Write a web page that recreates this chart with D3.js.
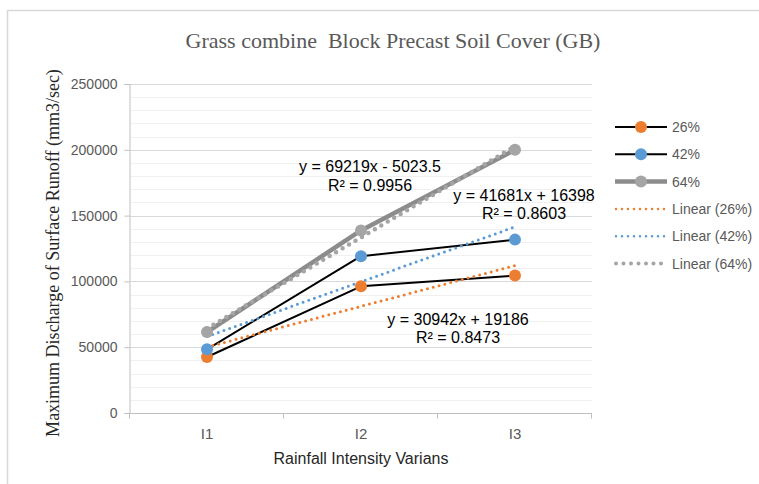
<!DOCTYPE html>
<html><head><meta charset="utf-8">
<script src="https://cdn.jsdelivr.net/npm/d3@7"></script>
<style>
html,body{margin:0;padding:0;background:#fff;}
svg{display:block;}
</style></head>
<body>
<svg id="chart" width="759" height="484"></svg>
<script>
const categories = ["I1", "I2", "I3"];
const seriesNames = ["26%", "42%", "64%"];
const values26 = [42544, 96238, 104428];
const values42 = [48382, 119154, 131744];
const values64 = [61539, 138729, 199977];
const yTicks = [0, 50000, 100000, 150000, 200000, 250000];
const equations = ["y = 30942x + 19186", "y = 41681x + 16398", "y = 69219x - 5023.5"];
const r2Labels = ["R² = 0.8473", "R² = 0.8603", "R² = 0.9956"];
const titleText = "Grass combine  Block Precast Soil Cover (GB)";
const xTitle = "Rainfall Intensity Varians";
const yTitle = "Maximum Discharge of Surface Runoff (mm3/sec)";

const svg = d3.select("#chart");
const L = 130, R = 592, T = 84, B = 413;
const x = d3.scaleBand().domain(categories).range([L, R]);
const xc = c => x(c) + x.bandwidth() / 2;
const y = d3.scaleLinear().domain([0, 250000]).range([B, T]);

// border
svg.append("path").attr("d", `M7.5,484 L7.5,10.5 L759,10.5`).attr("fill", "none")
  .attr("stroke", "#d9d9d9").attr("stroke-width", 1.5);

// gridlines
const minor = d3.range(10000, 250001, 10000).filter(v => v % 50000 !== 0);
svg.append("g").selectAll("line").data(minor).join("line")
  .attr("x1", L).attr("x2", R).attr("y1", d => Math.round(y(d)) + 0.5).attr("y2", d => Math.round(y(d)) + 0.5)
  .attr("stroke", "#f0f0f0").attr("stroke-width", 1);
svg.append("g").selectAll("line").data(yTicks.slice(1)).join("line")
  .attr("x1", L).attr("x2", R).attr("y1", d => Math.round(y(d)) + 0.5).attr("y2", d => Math.round(y(d)) + 0.5)
  .attr("stroke", "#d9d9d9").attr("stroke-width", 1);

// axes
const yAxis = d3.axisLeft(y).tickValues(yTicks).tickSize(5).tickPadding(7).tickFormat(d3.format("d"));
const gy = svg.append("g").attr("transform", `translate(${L - 0.5},0)`).call(yAxis);
gy.select(".domain").attr("stroke", "#bfbfbf");
gy.selectAll(".tick line").attr("stroke", "#bfbfbf");
gy.selectAll(".tick text").attr("fill", "#595959").attr("font-family", "Liberation Sans, Arial, sans-serif").attr("font-size", 14);

const gx = svg.append("g").attr("transform", `translate(0,${B + 0.5})`);
gx.append("line").attr("x1", L - 0.5).attr("x2", R).attr("stroke", "#bfbfbf");
const bounds = [L, L + x.bandwidth(), L + 2 * x.bandwidth(), R];
gx.selectAll("line.tk").data(bounds).join("line").attr("class", "tk")
  .attr("x1", d => Math.round(d) - 0.5).attr("x2", d => Math.round(d) - 0.5).attr("y1", 0).attr("y2", 5).attr("stroke", "#bfbfbf");
gx.selectAll("text").data(categories).join("text")
  .attr("x", d => xc(d)).attr("y", 25).attr("text-anchor", "middle")
  .attr("fill", "#595959").attr("font-family", "Liberation Sans, Arial, sans-serif").attr("font-size", 15).text(d => d);

// titles
svg.append("text").attr("x", 393).attr("y", 48).attr("text-anchor", "middle")
  .style("white-space", "pre").attr("fill", "#595959")
  .attr("font-family", "Liberation Serif, Times New Roman, serif").attr("font-size", 22).text(titleText);
svg.append("text").attr("x", 361).attr("y", 464).attr("text-anchor", "middle")
  .attr("fill", "#262626").attr("font-family", "Liberation Sans, Arial, sans-serif").attr("font-size", 16).text(xTitle);
svg.append("text").attr("transform", "translate(59,253) rotate(-90)").attr("text-anchor", "middle")
  .attr("fill", "#262626").attr("font-family", "Liberation Serif, Times New Roman, serif").attr("font-size", 18).text(yTitle);

// series
const series = [
  {name: seriesNames[0], vals: values26, line: "#000000", lw: 2, marker: "#ed7d31", trend: "#ed7d31", tw: 3, td: "0,6"},
  {name: seriesNames[1], vals: values42, line: "#000000", lw: 2, marker: "#5b9bd5", trend: "#5b9bd5", tw: 3, td: "0,6"},
  {name: seriesNames[2], vals: values64, line: "#8c8c8c", lw: 4.5, marker: "#a5a5a5", trend: "#a5a5a5", tw: 4.5, td: "0,7.5"}
];
const lineGen = d3.line().x((d, i) => xc(categories[i])).y(d => y(d));

function fit(vals) {
  const xs = vals.map((_, i) => i + 1);
  const mx = d3.mean(xs), my = d3.mean(vals);
  const b = d3.sum(xs.map((xi, i) => (xi - mx) * (vals[i] - my))) / d3.sum(xs.map(xi => (xi - mx) ** 2));
  return {b, a: my - b * mx};
}

series.forEach(s => {
  svg.append("path").datum(s.vals).attr("d", lineGen).attr("fill", "none")
    .attr("stroke", s.line).attr("stroke-width", s.lw).attr("stroke-linejoin", "round");
});
series.forEach(s => {
  const f = fit(s.vals);
  const pts = [1, 3].map(k => [xc(categories[k - 1]), y(f.a + f.b * k)]);
  svg.append("path").attr("d", d3.line()(pts)).attr("fill", "none")
    .attr("stroke", s.trend).attr("stroke-width", s.tw).attr("stroke-dasharray", s.td).attr("stroke-linecap", "round");
});
series.forEach(s => {
  svg.append("g").selectAll("circle").data(s.vals).join("circle")
    .attr("cx", (d, i) => xc(categories[i])).attr("cy", d => y(d)).attr("r", 6).attr("fill", s.marker);
});

// trend labels
const lblPos = [[458, 325, 343], [524, 201, 219], [370, 172, 191]];
const lbls = svg.append("g").attr("font-family", "Liberation Sans, Arial, sans-serif").attr("font-size", 16).attr("fill", "#000").attr("text-anchor", "middle");
equations.forEach((e, i) => {
  lbls.append("text").attr("x", lblPos[i][0]).attr("y", lblPos[i][1]).text(e);
  lbls.append("text").attr("x", lblPos[i][0]).attr("y", lblPos[i][2]).text(r2Labels[i]);
});

// legend
const leg = svg.append("g").attr("font-family", "Liberation Sans, Arial, sans-serif").attr("font-size", 14).attr("fill", "#595959");
const legItems = [
  ...series.map(s => ({label: s.name, type: "series", s})),
  ...series.map(s => ({label: `Linear (${s.name})`, type: "trend", s}))
];
legItems.forEach((it, i) => {
  const yy = 127 + i * 27.3;
  if (it.type === "series") {
    leg.append("line").attr("x1", 615).attr("x2", 667).attr("y1", yy).attr("y2", yy)
      .attr("stroke", it.s.line).attr("stroke-width", it.s.lw);
    leg.append("circle").attr("cx", 641).attr("cy", yy).attr("r", 6).attr("fill", it.s.marker);
  } else {
    leg.append("line").attr("x1", 616).attr("x2", 667).attr("y1", yy).attr("y2", yy)
      .attr("stroke", it.s.trend).attr("stroke-width", it.s.tw - 0.5).attr("stroke-dasharray", it.s.td).attr("stroke-linecap", "round");
  }
  leg.append("text").attr("x", 672).attr("y", yy + 5).text(it.label);
});
</script>
</body></html>
